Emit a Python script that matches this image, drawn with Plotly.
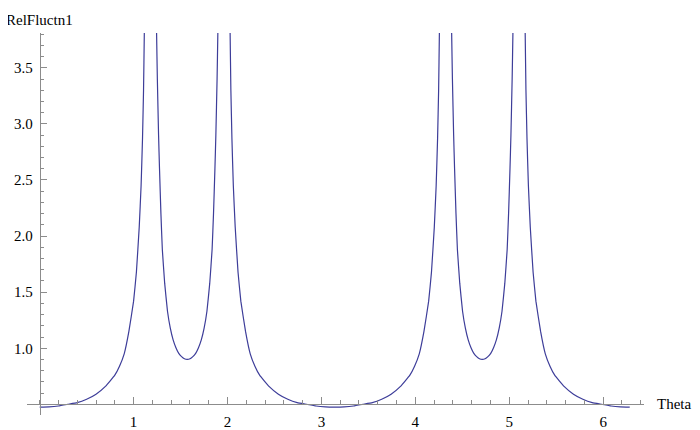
import plotly.graph_objects as go

# values (None = break at a pole)
theta = [0.00, 0.10, 0.20, 0.30, 0.40, 0.50, 0.60, 0.70, 0.80, 0.85, 0.90, 0.95, 1.00, 1.03, 1.06, 1.08, 1.095, 1.106, 1.114, 1.124, None,
         1.235, 1.245, 1.253, 1.266, 1.276, 1.291, 1.306, 1.331, 1.361, 1.391, 1.421, 1.451, 1.481, 1.511, 1.541, 1.571,
         1.601, 1.631, 1.661, 1.691, 1.721, 1.751, 1.781, 1.811, 1.836, 1.851, 1.866, 1.876, 1.889, 1.897, 1.907, None,
         2.018, 2.028, 2.036, 2.047, 2.062, 2.082, 2.112, 2.142, 2.192, 2.242, 2.292, 2.342, 2.442, 2.542, 2.642, 2.742, 2.842, 2.942, 3.042, 3.142,
         3.242, 3.342, 3.442, 3.542, 3.642, 3.742, 3.842, 3.942, 3.992, 4.042, 4.092, 4.142, 4.172, 4.202, 4.222, 4.237, 4.248, 4.256, 4.266, None,
         4.377, 4.387, 4.395, 4.408, 4.418, 4.433, 4.448, 4.473, 4.503, 4.533, 4.563, 4.593, 4.623, 4.653, 4.683, 4.712,
         4.743, 4.773, 4.803, 4.833, 4.863, 4.893, 4.923, 4.953, 4.978, 4.993, 5.008, 5.018, 5.031, 5.039, 5.049, None,
         5.160, 5.170, 5.178, 5.189, 5.204, 5.224, 5.254, 5.284, 5.334, 5.384, 5.434, 5.484, 5.584, 5.684, 5.784, 5.884, 5.984, 6.084, 6.184, 6.283]
rel = [0.475, 0.477, 0.485, 0.50, 0.515, 0.545, 0.59, 0.66, 0.76, 0.84, 0.95, 1.15, 1.42, 1.68, 2.08, 2.45, 2.87, 3.30, 3.80, 4.60, None,
       4.60, 3.80, 3.40, 2.90, 2.60, 2.20, 1.88, 1.58, 1.33, 1.18, 1.075, 1.005, 0.955, 0.925, 0.906, 0.90,
       0.906, 0.925, 0.955, 1.005, 1.075, 1.18, 1.33, 1.58, 1.88, 2.20, 2.60, 2.90, 3.40, 3.80, 4.60, None,
       4.60, 3.80, 3.30, 2.87, 2.45, 2.08, 1.68, 1.42, 1.15, 0.95, 0.84, 0.76, 0.66, 0.59, 0.545, 0.515, 0.50, 0.485, 0.477, 0.475,
       0.477, 0.485, 0.50, 0.515, 0.545, 0.59, 0.66, 0.76, 0.84, 0.95, 1.15, 1.42, 1.68, 2.08, 2.45, 2.87, 3.30, 3.80, 4.60, None,
       4.60, 3.80, 3.40, 2.90, 2.60, 2.20, 1.88, 1.58, 1.33, 1.18, 1.075, 1.005, 0.955, 0.925, 0.906, 0.90,
       0.906, 0.925, 0.955, 1.005, 1.075, 1.18, 1.33, 1.58, 1.88, 2.20, 2.60, 2.90, 3.40, 3.80, 4.60, None,
       4.60, 3.80, 3.30, 2.87, 2.45, 2.08, 1.68, 1.42, 1.15, 0.95, 0.84, 0.76, 0.66, 0.59, 0.545, 0.515, 0.50, 0.485, 0.477, 0.475]

x_ticks = [1, 2, 3, 4, 5, 6]
y_ticks = [1.0, 1.5, 2.0, 2.5, 3.0, 3.5]

xr = [-0.135, 6.435]
yr = [0.405, 3.81]

fig = go.Figure()
fig.add_trace(go.Scatter(x=theta, y=rel, mode='lines',
                         line=dict(color='#3d3d99', width=1.2, shape='spline', smoothing=0.3),
                         showlegend=False, hoverinfo='skip'))

# page body has an 8px margin, so the figure is made 8px smaller and shifted
axis_font = dict(family='"Liberation Serif", "Times New Roman", Times, serif', size=15, color='black')
fig.update_layout(
    width=692, height=422,
    margin=dict(l=19, r=56, t=25, b=15, autoexpand=False),
    plot_bgcolor='white', paper_bgcolor='white',
    xaxis=dict(range=xr, anchor='free', position=(0.5 - yr[0]) / (yr[1] - yr[0]), automargin=False,
               showgrid=False, zeroline=False, showline=True, linecolor='#8c8c8c', linewidth=1,
               tickvals=x_ticks, ticks='inside', ticklen=7, tickcolor='#8c8c8c', tickfont=axis_font,
               ticklabelstandoff=4,
               minor=dict(dtick=0.2, tick0=0, ticks='inside', ticklen=4, tickcolor='#8c8c8c', showgrid=False)),
    yaxis=dict(range=yr, anchor='free', position=(0 - xr[0]) / (xr[1] - xr[0]), automargin=False,
               showgrid=False, zeroline=False, showline=True, linecolor='#8c8c8c', linewidth=1,
               tickvals=y_ticks, tickformat='.1f', ticks='inside', ticklen=6, tickcolor='#8c8c8c', tickfont=axis_font,
               ticklabelstandoff=4,
               minor=dict(dtick=0.1, tick0=0, ticks='inside', ticklen=3, tickcolor='#8c8c8c', showgrid=False)),
    annotations=[
        dict(text='RelFluctn1', xref='paper', yref='paper', x=-0.038, y=1.0, xanchor='left', yanchor='bottom',
             yshift=3, showarrow=False, font=axis_font),
        dict(text='Theta', xref='paper', yref='y', x=1.0, y=0.5, xanchor='left', yanchor='middle',
             xshift=11, showarrow=False, font=axis_font),
    ],
)

fig.write_html("out.html")
